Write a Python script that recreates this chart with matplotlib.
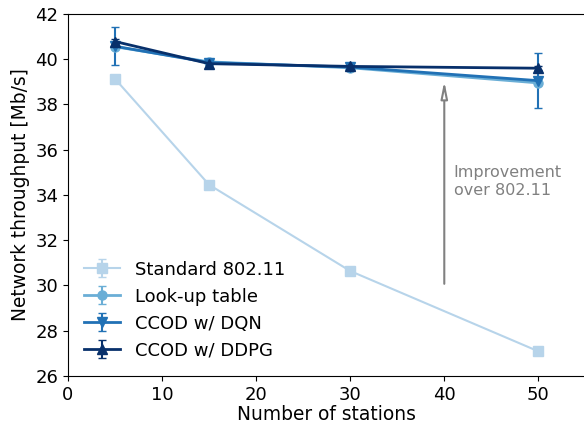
import numpy as np
import matplotlib
matplotlib.use('Agg')
import matplotlib.pyplot as plt

# number of stations
stations = [5, 15, 30, 50]

# mean throughput [Mb/s] and error (std) per method
standard = [39.13, 34.45, 30.64, 27.09]
standard_err = [0.08, 0.06, 0.06, 0.05]
lookup = [40.55, 39.88, 39.62, 38.95]
lookup_err = [0.10, 0.08, 0.06, 0.10]
dqn = [40.57, 39.85, 39.65, 39.05]
dqn_err = [0.84, 0.12, 0.08, 1.21]
ddpg = [40.78, 39.80, 39.68, 39.60]
ddpg_err = [0.10, 0.06, 0.05, 0.08]

labels = ['Standard 802.11', 'Look-up table', 'CCOD w/ DQN', 'CCOD w/ DDPG']
colors = ['#b7d4ea', '#6aaed6', '#2171b5', '#08306b']
markers = ['s', 'o', 'v', '^']

fig = plt.figure(figsize=(5.84, 4.25), dpi=100)
ax = fig.add_axes([0.1164, 0.1153, 0.886, 0.852])

series = [(standard, standard_err), (lookup, lookup_err), (dqn, dqn_err), (ddpg, ddpg_err)]
for (vals, errs), lab, col, mk in zip(series, labels, colors, markers):
    lw = 1.5 if mk == 's' else 2
    ax.errorbar(stations, vals, yerr=errs, label=lab, color=col, marker=mk,
                markersize=6.5, linewidth=lw, capsize=3, elinewidth=1.5)

# arrow showing the gain over standard
ax.annotate('', xy=(40, 39.15), xytext=(40, 29.95),
            arrowprops=dict(arrowstyle='-|>,head_width=0.2,head_length=1.0',
                            facecolor='white', edgecolor='gray', linewidth=1.5))
ax.text(41.0, 34.6, 'Improvement\nover 802.11', color='gray', fontsize=11.5,
        va='center', ha='left')

ax.set_xlim(0, 55)
ax.set_ylim(26, 42)
ax.set_xticks([0, 10, 20, 30, 40, 50])
ax.set_yticks(np.arange(26, 43, 2))
ax.tick_params(labelsize=13)
ax.set_xlabel('Number of stations', fontsize=13.4, labelpad=1)
ax.set_ylabel('Network throughput [Mb/s]', fontsize=13.4)
ax.legend(loc='lower left', frameon=False, fontsize=13)

fig.savefig('out.png', dpi=100)
